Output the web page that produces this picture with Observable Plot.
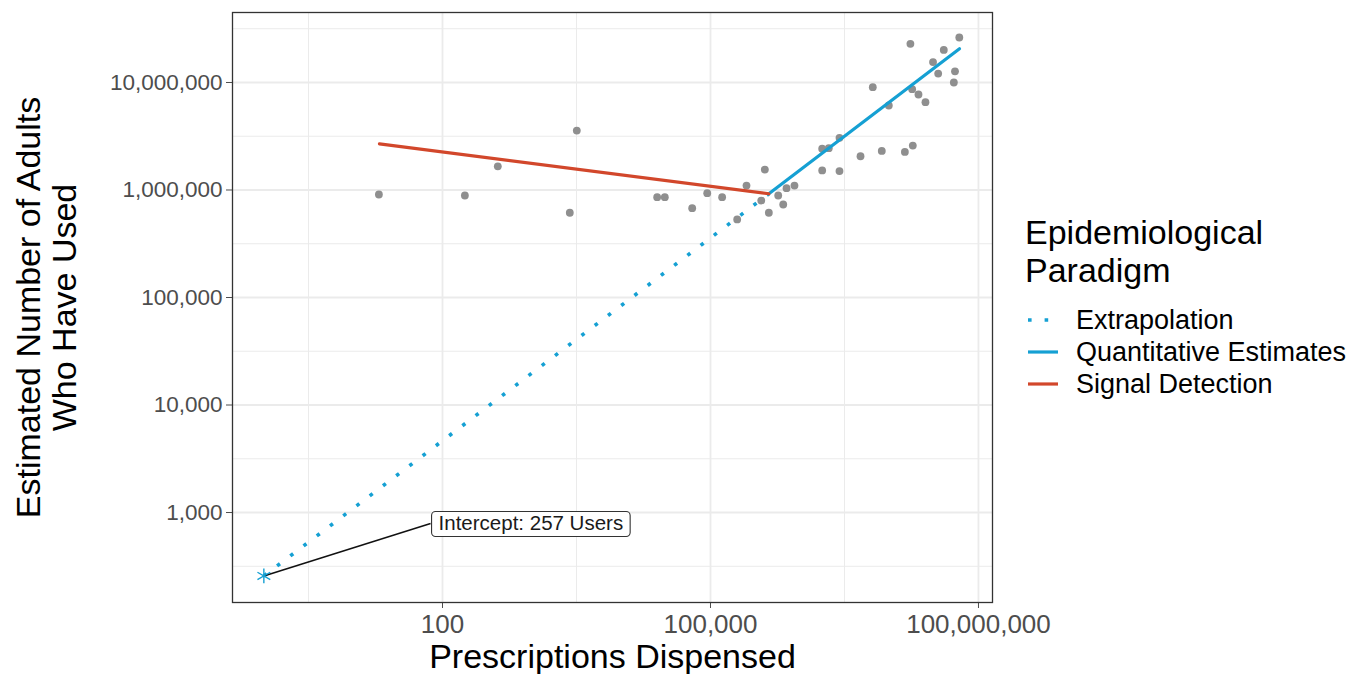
<!DOCTYPE html>
<html>
<head>
<meta charset="utf-8">
<script src="https://cdn.jsdelivr.net/npm/d3@7"></script>
<script src="https://cdn.jsdelivr.net/npm/@observablehq/plot@0.6"></script>
<style>
  html, body { margin: 0; padding: 0; background: #fff; }
  #wrap { position: relative; width: 1357px; height: 674px; font-family: "Liberation Sans", Arial, sans-serif; }
  .lg { position: absolute; white-space: nowrap; color: #000; }
</style>
</head>
<body>
<div id="wrap"></div>
<script>
// ---- Data ----
const pointX = [19.4, 178, 416, 2661, 3187, 25300, 30800, 62400, 91900, 135000, 199000, 253000, 406000, 370000, 450000, 573000, 652000, 710000, 871000,
  1780000, 2780000, 1780000, 2110000, 2780000, 4780000, 8270000, 15000000, 18400000, 6560000, 9910000, 17300000, 18100000, 21300000, 25500000,
  31000000, 35400000, 40900000, 54600000, 53000000, 61000000];
const pointY = [908000, 889000, 1660000, 614000, 3570000, 857000, 857000, 677000, 934000, 857000, 532000, 1100000, 1550000, 798000, 614000, 889000, 733000, 1040000, 1100000,
  1520000, 1500000, 2420000, 2450000, 3060000, 2060000, 2310000, 2260000, 2590000, 9040000, 6110000, 22900000, 8670000, 7730000, 6560000,
  15500000, 12100000, 20100000, 12700000, 10000000, 26200000];

const paradigms = ["Extrapolation", "Quantitative Estimates", "Signal Detection"];
const extrapX = [1, 450000];
const extrapY = [257, 922000];
const quantX = [450000, 61300000];
const quantY = [922000, 20600000];
const signalX = [19.7, 450000];
const signalY = [2690000, 922000];

const interceptX = [1];
const interceptY = [257];
const annotX = [73.5];
const annotY = [791];
const annotText = ["Intercept: 257 Users"];

const xMajor = [1e2, 1e5, 1e8];
const xMinor = [10 ** 0.5, 10 ** 3.5, 10 ** 6.5];
const yMajor = [1e3, 1e4, 1e5, 1e6, 1e7];
const yMinor = [10 ** 2.5, 10 ** 3.5, 10 ** 4.5, 10 ** 5.5, 10 ** 6.5, 10 ** 7.5];

const xTitle = "Prescriptions Dispensed";
const yTitle = "Estimated Number of Adults\nWho Have Used";
const legendTitle = "Epidemiological\nParadigm";

// ---- Styles ----
const BLUE = "#15A0D3";
const RED = "#D2472B";
const GREY_PT = "#8f8f8f";
const GRID = "#ebebeb";

const zip = (xs, ys) => xs.map((x, i) => ({x, y: ys[i]}));
const points = zip(pointX, pointY);
const extrap = zip(extrapX, extrapY);
const quant = zip(quantX, quantY);
const signal = zip(signalX, signalY);
const intercept = zip(interceptX, interceptY);
const link = [{x1: interceptX[0], y1: interceptY[0], x2: annotX[0], y2: annotY[0]}];
const annot = annotText.map((t, i) => ({x: annotX[i], y: annotY[i], text: t}));
const fmt = d3.format(",");

const chart = Plot.plot({
  width: 1357,
  height: 674,
  marginLeft: 232,
  marginRight: 365,
  marginTop: 12,
  marginBottom: 72,
  style: {fontFamily: '"Liberation Sans", Arial, sans-serif', background: "transparent", overflow: "visible"},
  x: {type: "log", domain: [10 ** -0.351, 10 ** 8.157]},
  y: {type: "log", domain: [10 ** 2.163, 10 ** 7.651]},
  marks: [
    Plot.ruleX(xMinor, {stroke: GRID, strokeWidth: 1}),
    Plot.ruleY(yMinor, {stroke: GRID, strokeWidth: 1}),
    Plot.ruleX(xMajor, {stroke: GRID, strokeWidth: 1.8}),
    Plot.ruleY(yMajor, {stroke: GRID, strokeWidth: 1.8}),
    Plot.axisX(xMajor, {tickFormat: fmt, tickSize: 6, tickPadding: 6, fontSize: 26, color: "#4d4d4d", label: null}),
    Plot.axisY(yMajor, {tickFormat: fmt, tickSize: 6, tickPadding: 4, fontSize: 22.5, color: "#4d4d4d", label: null}),
    Plot.dot(points, {x: "x", y: "y", r: 3.9, fill: GREY_PT, stroke: "none"}),
    Plot.line(extrap, {x: "x", y: "y", stroke: BLUE, strokeWidth: 3.6, strokeDasharray: "3.6 13", strokeLinecap: "butt"}),
    Plot.line(quant, {x: "x", y: "y", stroke: BLUE, strokeWidth: 3.2}),
    Plot.line(signal, {x: "x", y: "y", stroke: RED, strokeWidth: 3.2}),
    Plot.link(link, {x1: "x1", y1: "y1", x2: "x2", y2: "y2", stroke: "#111", strokeWidth: 1.5}),
    Plot.dot(intercept, {x: "x", y: "y", symbol: "asterisk", r: 7, stroke: BLUE, strokeWidth: 1.4}),
    Plot.text(annot, {x: "x", y: "y", text: "text", textAnchor: "start", dx: 8, fontSize: 20.5, fill: "#1a1a1a"}),
    Plot.frame({stroke: "#333", strokeWidth: 1.3}),
    Plot.text([xTitle], {text: d => d, frameAnchor: "bottom", lineAnchor: "middle", dy: 55, fontSize: 34, fill: "#000"}),
    Plot.text([yTitle], {text: d => d, frameAnchor: "left", textAnchor: "middle", lineAnchor: "middle", rotate: -90, dx: -186, fontSize: 34, lineHeight: 1.04, fill: "#000"})
  ]
});

const wrap = document.getElementById("wrap");
wrap.appendChild(chart);

// rounded label box behind the annotation text
chart.querySelectorAll("text").forEach(t => {
  if (t.textContent === annotText[0]) {
    const bb = t.getBBox();
    const r = document.createElementNS("http://www.w3.org/2000/svg", "rect");
    r.setAttribute("x", bb.x - 7);
    r.setAttribute("y", bb.y + 0.5);
    r.setAttribute("width", bb.width + 14);
    r.setAttribute("height", bb.height + 2);
    r.setAttribute("rx", 4);
    r.setAttribute("fill", "#fff");
    r.setAttribute("stroke", "#333");
    r.setAttribute("stroke-width", 1.1);
    if (t.getAttribute("transform")) r.setAttribute("transform", t.getAttribute("transform"));
    t.parentNode.insertBefore(r, t);
  }
});

// ---- Legend ----
const lgTitle = document.createElement("div");
lgTitle.className = "lg";
lgTitle.style.left = "1025px";
lgTitle.style.top = "213px";
lgTitle.style.fontSize = "34px";
lgTitle.style.lineHeight = "38px";
lgTitle.innerHTML = legendTitle.split("\n").join("<br>");
wrap.appendChild(lgTitle);

const keyStyles = {
  "Extrapolation": {stroke: BLUE, dash: "3.6 13", w: 3.6},
  "Quantitative Estimates": {stroke: BLUE, dash: null, w: 3.2},
  "Signal Detection": {stroke: RED, dash: null, w: 3.2}
};
paradigms.forEach((p, i) => {
  const cy = 320 + i * 32;
  const ks = keyStyles[p];
  const svg = document.createElementNS("http://www.w3.org/2000/svg", "svg");
  svg.setAttribute("width", 40);
  svg.setAttribute("height", 20);
  svg.style.position = "absolute";
  svg.style.left = "1025px";
  svg.style.top = (cy - 10) + "px";
  const ln = document.createElementNS("http://www.w3.org/2000/svg", "line");
  ln.setAttribute("x1", 3); ln.setAttribute("x2", 33);
  ln.setAttribute("y1", 10); ln.setAttribute("y2", 10);
  ln.setAttribute("stroke", ks.stroke);
  ln.setAttribute("stroke-width", ks.w);
  if (ks.dash) ln.setAttribute("stroke-dasharray", ks.dash);
  svg.appendChild(ln);
  wrap.appendChild(svg);
  const lab = document.createElement("div");
  lab.className = "lg";
  lab.style.left = "1076px";
  lab.style.top = (cy - 16) + "px";
  lab.style.fontSize = "27px";
  lab.style.lineHeight = "32px";
  lab.textContent = p;
  wrap.appendChild(lab);
});
</script>
</body>
</html>
